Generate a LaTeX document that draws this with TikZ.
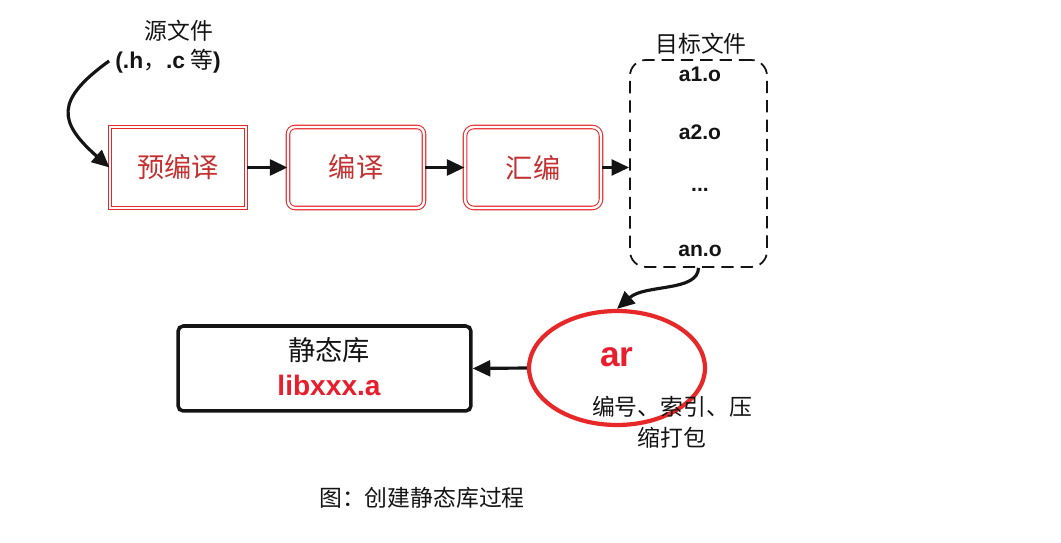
\documentclass[tikz,border=0pt]{standalone}
\usepackage{fontspec}
\setmainfont{Noto Sans CJK SC}
\newfontfamily\arial{Liberation Sans}
\usetikzlibrary{arrows.meta, positioning, shapes.geometric}
\definecolor{BR}{RGB}{230,40,40}
\definecolor{TR}{RGB}{196,48,48}
\definecolor{AR}{RGB}{232,30,44}
\definecolor{DG}{RGB}{20,20,20}

\begin{document}
\begin{tikzpicture}[x=0.02cm, y=-0.02cm,
  stage/.style={draw=BR, double=white, double distance=1.4pt, line width=0.6pt,
                rounded corners=#1, minimum width=2.72cm, minimum height=1.62cm,
                font=\fontsize{15.5}{18}\selectfont, text=TR},
  stage/.default=0pt,
  arr/.style={-{Triangle[length=10pt,width=9pt]}, line width=1.8pt, draw=DG},
  obj/.style={font=\arial\bfseries\fontsize{12}{14}\selectfont, text=DG},
  lbl/.style={font=\fontsize{13}{17.5}\selectfont, text=DG, align=center}
]
\useasboundingbox (0,0) rectangle (1061,543);

% source files
\node[lbl] (src) at (179,31) {源文件};
\node[lbl] (ext) at (168,61) {{\arial\bfseries (.h}，{\arial\bfseries .c} 等{\arial\bfseries )}};

% compile stages
\node[stage]     (pre) at (178,167.5) {预编译};
\node[stage=4pt] (cc)  at (356,167.5) {编译};
\node[stage=5pt] (asm) at (533,167.5) {汇编};

% object files
\node[draw=DG, dashed, dash pattern=on 7pt off 4pt, line width=1pt, rounded corners=9pt,
      minimum width=2.74cm, minimum height=4.14cm] (objs) at (698.5,163.5) {};
\node[lbl] (objt) at (701,44) {目标文件};
\node[obj] (a1) at (700,74)  {a1.o};
\node[obj] (a2) at (700,132) {a2.o};
\node[obj] (ad) at (700,190) {...};
\node[obj] (an) at (700,251) {an.o};

% ar
\node[ellipse, draw=BR, line width=2.4pt, minimum width=3.52cm, minimum height=2.28cm] (arc) at (617,368) {};
\node[font=\arial\bfseries\fontsize{20}{22}\selectfont, text=AR] (artxt) at (617,357) {ar};
\node[lbl] (arnote) at (672,422) {编号、索引、压\\缩打包};

% static library
\node[draw=DG, line width=2pt, rounded corners=3pt, minimum width=5.86cm, minimum height=1.7cm] (lib) at (324.5,368.5) {};
\node[font=\fontsize{15.5}{18}\selectfont, text=DG] (libname) at (329,350) {静态库};
\node[font=\arial\bfseries\fontsize{16}{18}\selectfont, text=AR] (libfile) at (329,385) {libxxx.a};

% caption
\node[lbl] (cap) at (422,498) {图：创建静态库过程};

\draw[arr] (ext.west) .. controls (55,100) and (58,122) .. (pre.west);
\draw[arr] (pre) -- (cc);
\draw[arr] (cc) -- (asm);
\draw[arr] (asm) -- (asm -| objs.west);
\draw[arr] (objs.south) .. controls (698,292) and (645,284) .. (arc.north);
\draw[arr] (arc.west) -- (lib.east);
\end{tikzpicture}
\end{document}
